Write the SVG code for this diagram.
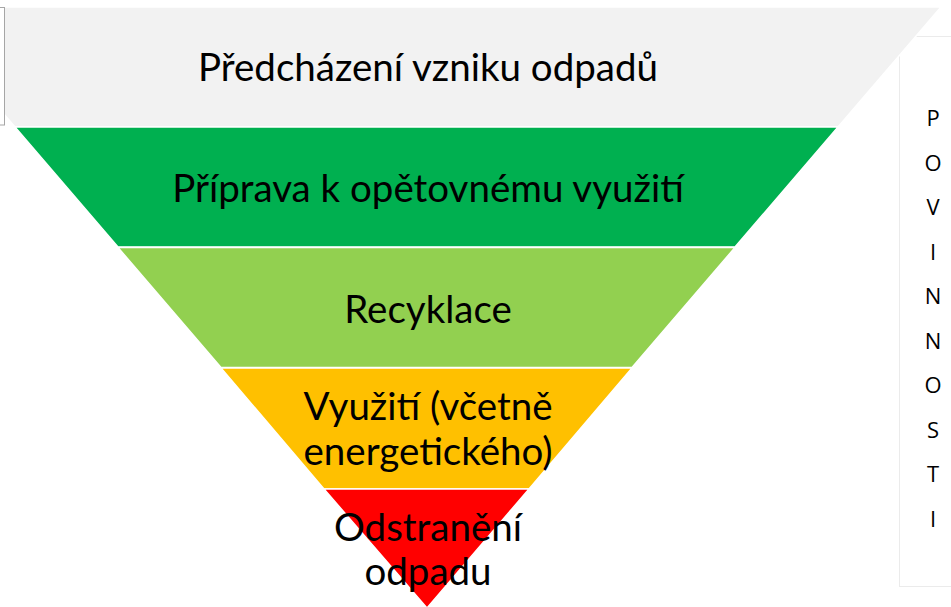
<svg xmlns="http://www.w3.org/2000/svg" width="951" height="607" viewBox="0 0 951 607">
<style>
.lbl{font-family:Lato,"Open Sans","DejaVu Sans",sans-serif;font-size:38.5px;fill:#000;text-anchor:middle}
.let{font-family:"Open Sans","Liberation Sans",sans-serif;font-size:22px;fill:#000;text-anchor:middle}
.layer{stroke:#fff;stroke-width:1.5}
</style>
<rect width="951" height="607" fill="#fff"/>
<g id="box-povinnosti">
<rect x="899.5" y="36.5" width="60" height="550" fill="#fff" stroke="#ebebeb" stroke-width="1"/>
<text class="let" x="933" y="126">P</text>
<text class="let" x="933" y="170.5">O</text>
<text class="let" x="933" y="215">V</text>
<text class="let" x="933" y="259.5">I</text>
<text class="let" x="933" y="304">N</text>
<text class="let" x="933" y="348.5">N</text>
<text class="let" x="933" y="393">O</text>
<text class="let" x="933" y="437.5">S</text>
<text class="let" x="933" y="482">T</text>
<text class="let" x="933" y="526.5">I</text>
</g>
<g id="layer1">
<polygon class="layer" points="-88,7 941,7 838,127 15,127" fill="#F2F2F2"/>
<text class="lbl" x="428" y="81">Předcházení vzniku odpadů</text>
</g>
<g id="layer2">
<polygon class="layer" points="15,127 838,127 735,247 118,247" fill="#00B050"/>
<text class="lbl" x="428" y="202">Příprava k opětovnému využití</text>
</g>
<g id="layer3">
<polygon class="layer" points="118,247.5 735,247.5 632,367.5 221,367.5" fill="#92D050"/>
<text class="lbl" x="428" y="323">Recyklace</text>
</g>
<g id="layer4">
<polygon class="layer" points="221,368 632,368 529,489 324,489" fill="#FFC000"/>
<text class="lbl" x="428" y="420">Využití (včetně</text>
<text class="lbl" x="428" y="465">energetického)</text>
</g>
<g id="layer5">
<polygon class="layer" points="324,489 529,489 427,608" fill="#FF0000"/>
<text class="lbl" x="428" y="541">Odstranění</text>
<text class="lbl" x="428" y="585">odpadu</text>
</g>
<g id="left-box">
<rect x="-5" y="7.5" width="9.5" height="117.5" fill="#fff" stroke="#a6a6a6" stroke-width="1"/>
</g>
<g id="connectors"></g>
</svg>
